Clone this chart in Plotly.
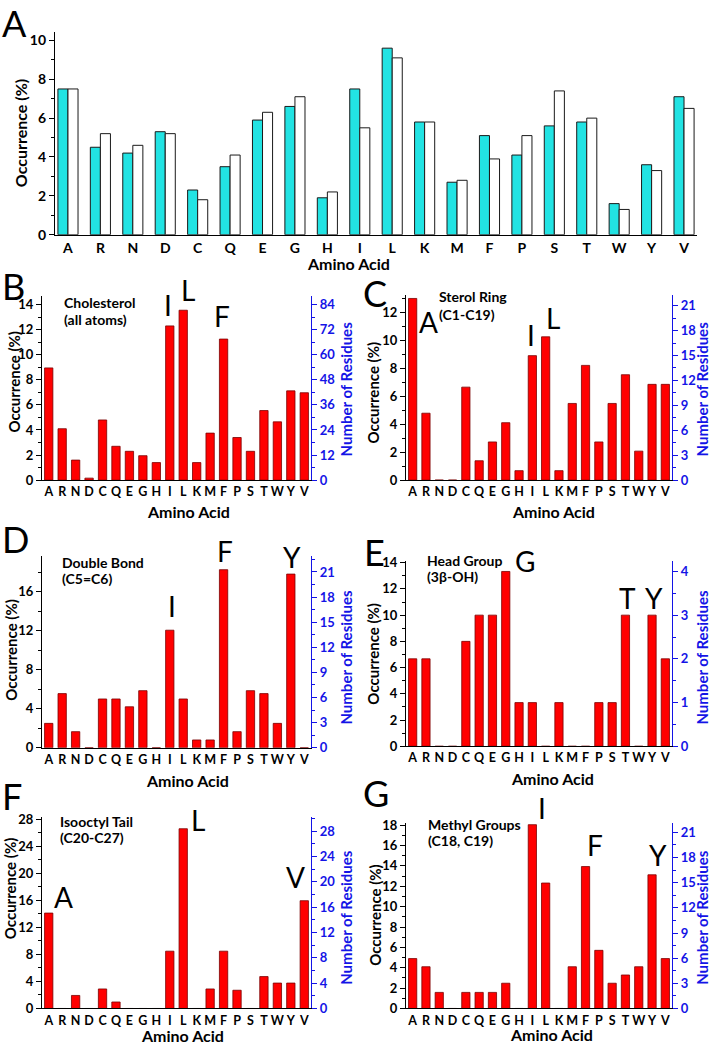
import plotly.graph_objects as go

W, H = 711, 1050
def fx(px): return px / W
def fy(py): return 1 - py / H

# ---------------- data ----------------
amino = ["A","R","N","D","C","Q","E","G","H","I","L","K","M","F","P","S","T","W","Y","V"]

# Panel A: two series (cyan and white)
occ_cyan  = [7.5, 4.5, 4.2, 5.3, 2.3, 3.5, 5.9, 6.6, 1.9, 7.5, 9.6, 5.8, 2.7, 5.1, 4.1, 5.6, 5.8, 1.6, 3.6, 7.1]
occ_white = [7.5, 5.2, 4.6, 5.2, 1.8, 4.1, 6.3, 7.1, 2.2, 5.5, 9.1, 5.8, 2.8, 3.9, 5.1, 7.4, 6.0, 1.3, 3.3, 6.5]

chol_all      = [8.95, 4.1, 1.6, 0.16, 4.8, 2.7, 2.3, 1.95, 1.4, 12.3, 13.55, 1.4, 3.75, 11.25, 3.4, 2.3, 5.55, 4.65, 7.12, 6.97]
sterol_ring   = [13.03, 4.8, 0, 0, 6.67, 1.39, 2.74, 4.12, 0.68, 8.93, 10.28, 0.68, 5.5, 8.23, 2.74, 5.5, 7.56, 2.08, 6.87, 6.87]
double_bond   = [2.5, 5.55, 1.65, 0, 5.0, 5.0, 4.2, 5.85, 0, 12.05, 5.0, 0.8, 0.8, 18.25, 1.65, 5.85, 5.55, 2.5, 17.8, 0]
head_group    = [6.67, 6.67, 0, 0, 8.0, 10.0, 10.0, 13.33, 3.33, 3.33, 0, 3.33, 0, 0, 3.33, 3.33, 10.0, 0, 10.0, 6.67]
isooctyl_tail = [14.12, 0, 1.93, 0, 2.89, 0.96, 0, 0, 0, 8.48, 26.6, 0, 2.89, 8.48, 2.7, 0, 4.72, 3.76, 3.76, 15.95]
methyl_groups = [4.9, 4.1, 1.58, 0, 1.58, 1.58, 1.58, 2.48, 0, 18.05, 12.32, 0, 4.1, 13.94, 5.71, 2.48, 3.29, 4.1, 13.13, 4.9]

panel_titles = [["Cholesterol", "(all atoms)"], ["Sterol Ring", "(C1-C19)"],
                ["Double Bond", "(C5=C6)"], ["Head Group", "(3β-OH)"],
                ["Isooctyl Tail", "(C20-C27)"], ["Methyl Groups", "(C18, C19)"]]
panel_letters = ["B", "C", "D", "E", "F", "G"]
highlights = [["I", "L", "F"], ["A", "I", "L"], ["I", "F", "Y"],
              ["G", "T", "Y"], ["L", "A", "V"], ["I", "F", "Y"]]

y_title = "Occurrence (%)"
y2_title = "Number of Residues"
x_title = "Amino Acid"

# ---------------- styling / layout ----------------
FONT = "Lato"
BLUE = "#1414E6"
RED = "#FF0000"
CYAN = "#22E3E3"
LW = 1.3

panels = [
    dict(vals=chol_all, x0=42, x1=311, ybot=480, ytop=293, lmax=14.7, ldt=2, rmax=88.2, rdt=12,
         letter=(13, 283), title=(62, 300, 317),
         hl=[(168, 302), (188, 287), (222, 313)],
         ytl=(14, 380), ytr=(346, 388), xt=(188, 512)),
    dict(vals=sterol_ring, x0=406, x1=672, ybot=480, ytop=292, lmax=13.29, ldt=2, rmax=22.3, rdt=3,
         letter=(375, 290), title=(437, 294, 312),
         hl=[(429, 320), (531, 333), (553, 316)],
         ytl=(373, 391), ytr=(702, 388), xt=(553, 512)),
    dict(vals=double_bond, x0=42, x1=311, ybot=751.5, ytop=557, lmax=19.65, ldt=4, rmax=22.9, rdt=3,
         letter=(15, 540), title=(60, 564, 580),
         hl=[(172, 608), (225, 552), (292, 558)],
         ytl=(11, 652), ytr=(346, 660), xt=(187, 785)),
    dict(vals=head_group, x0=406, x1=672, ybot=750, ytop=562, lmax=14.13, ldt=2, rmax=4.24, rdt=1,
         letter=(374, 553), title=(425, 562, 578),
         hl=[(525, 562), (627, 600), (654, 600)],
         ytl=(373, 656), ytr=(702, 660), xt=(552, 783)),
    dict(vals=isooctyl_tail, x0=42, x1=311, ybot=1016, ytop=822, lmax=28.3, ldt=4, rmax=30.2, rdt=4,
         letter=(12, 800), title=(58, 826, 843),
         hl=[(198, 825), (63, 903), (295, 883)],
         ytl=(10, 894), ytr=(346, 924), xt=(182, 1043)),
    dict(vals=methyl_groups, x0=406, x1=672, ybot=1016, ytop=828, lmax=18.2, ldt=2, rmax=22.1, rdt=3,
         letter=(376, 797), title=(426, 829, 846),
         hl=[(542, 813), (595, 850), (658, 860)],
         ytl=(375, 921), ytr=(702, 924), xt=(551, 1042)),
]

fig = go.Figure()
annotations = []

def ann(text, x, y, size, bold=False, color="black", angle=0, xanchor="center"):
    annotations.append(dict(text=text, x=fx(x), y=fy(y), xref="paper", yref="paper",
                            showarrow=False, xanchor=xanchor, yanchor="middle",
                            textangle=angle,
                            font=dict(family=FONT, size=size, color=color,
                                      weight="bold" if bold else "normal")))

def xaxis_style(x0, x1, anchor, rng, size=12.5):
    return dict(type="category", domain=[fx(x0), fx(x1)], anchor=anchor, range=rng,
                tickmode="array", tickvals=amino, ticktext=amino, tickangle=0,
                showline=True, linecolor="black", linewidth=LW, ticks="",
                tickfont=dict(family=FONT, size=size, color="black", weight="bold"),
                showgrid=False, zeroline=False, fixedrange=True)

def yaxis_style(ybot, ytop, anchor, rng, dt, color="black", size=13):
    return dict(domain=[fy(ybot), fy(ytop)], anchor=anchor, range=rng,
                showline=True, linecolor=color, linewidth=LW,
                ticks="outside", ticklen=5, tickwidth=LW, tickcolor=color, dtick=dt, tick0=0,
                minor=dict(ticks="outside", ticklen=3, tickwidth=1, tickcolor=color, dtick=dt / 2),
                tickfont=dict(family=FONT, size=size, color=color, weight="bold"),
                showgrid=False, zeroline=False, fixedrange=True)

# ---- Panel A ----
fig.add_trace(go.Bar(x=amino, y=occ_cyan, marker=dict(color=CYAN, line=dict(color="#1a1a1a", width=1)),
                     xaxis="x", yaxis="y", showlegend=False))
fig.add_trace(go.Bar(x=amino, y=occ_white, marker=dict(color="white", line=dict(color="#1a1a1a", width=1)),
                     xaxis="x", yaxis="y", showlegend=False))
layout_axes = {}
layout_axes["xaxis"] = xaxis_style(55, 697, "y", [-0.4, 19.4], size=14)
layout_axes["yaxis"] = yaxis_style(231, 25, "x", [0, 10.45], 2, size=14)
ann("A", 14, 16, 36)
ann(y_title, 20, 128, 16, bold=True, angle=-90)
ann(x_title, 348, 260, 16, bold=True)

# ---- Panels B-G ----
for i, p in enumerate(panels):
    n = i + 2
    rn = i + 8
    xa, ya, ya2 = f"x{n}", f"y{n}", f"y{rn}"
    fig.add_trace(go.Bar(x=amino, y=p["vals"], marker=dict(color=RED, line=dict(color="#7a0000", width=0.8)),
                         xaxis=xa, yaxis=ya, showlegend=False))
    fig.add_trace(go.Scatter(x=amino, y=[None] * len(amino), mode="markers", xaxis=xa, yaxis=ya2,
                             showlegend=False, hoverinfo="skip"))
    layout_axes[f"xaxis{n}"] = xaxis_style(p["x0"], p["x1"], ya, [-0.5, 19.5])
    layout_axes[f"yaxis{n}"] = yaxis_style(p["ybot"], p["ytop"], xa, [0, p["lmax"]], p["ldt"])
    r = yaxis_style(p["ybot"], p["ytop"], xa, [0, p["rmax"]], p["rdt"], color=BLUE)
    r.update(overlaying=ya, side="right")
    layout_axes[f"yaxis{rn}"] = r

    ann(panel_letters[i], p["letter"][0], p["letter"][1], 36)
    tx, ty1, ty2 = p["title"]
    ann(panel_titles[i][0], tx, ty1, 14, bold=True, xanchor="left")
    ann(panel_titles[i][1], tx, ty2, 14, bold=True, xanchor="left")
    for letter, (hx, hy) in zip(highlights[i], p["hl"]):
        ann(letter, hx, hy, 28)
    ann(y_title, p["ytl"][0], p["ytl"][1], 15, bold=True, angle=-90)
    ann(y2_title, p["ytr"][0], p["ytr"][1], 15, bold=True, color=BLUE, angle=-90)
    ann(x_title, p["xt"][0], p["xt"][1], 16, bold=True)

fig.update_layout(width=W, height=H, margin=dict(l=0, r=0, t=0, b=0),
                  paper_bgcolor="white", plot_bgcolor="rgba(0,0,0,0)",
                  barmode="group", bargap=0.38, bargroupgap=0,
                  font=dict(family=FONT, color="black"),
                  annotations=annotations, **layout_axes)

fig.write_html("out.html", config={"displayModeBar": False},
               post_script="document.body.style.margin='0';document.body.style.overflow='hidden';")
